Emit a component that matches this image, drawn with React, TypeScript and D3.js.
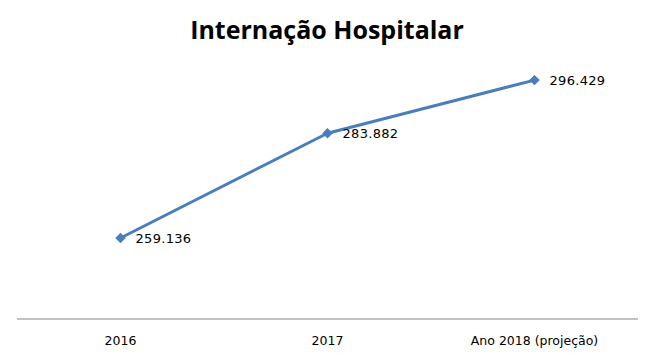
import React, { useEffect, useRef } from 'react';
import * as d3 from 'd3';

const categories = ['2016', '2017', 'Ano 2018 (projeção)'];
const values = [259136, 283882, 296429];
const valueLabels = ['259.136', '283.882', '296.429'];

export default function App() {
  const svgRef = useRef<SVGSVGElement>(null);

  useEffect(() => {
    if (!svgRef.current) return;
    const svg = d3.select(svgRef.current);
    svg.selectAll('*').remove();

    const width = 650;

    const x = d3.scaleBand<string>()
      .domain(categories)
      .range([17, 638]);

    const y = d3.scaleLinear()
      .domain([240000, 300000])
      .range([319, 65]);

    const cx = (c: string) => (x(c) ?? 0) + x.bandwidth() / 2;

    // title
    svg.append('text')
      .attr('x', width / 2 + 2)
      .attr('y', 39)
      .attr('text-anchor', 'middle')
      .style('font-family', '"Open Sans", sans-serif')
      .style('font-size', '25px')
      .style('font-weight', '700')
      .style('fill', '#000')
      .text('Internação Hospitalar');

    // baseline
    svg.append('line')
      .attr('x1', x.range()[0])
      .attr('x2', x.range()[1])
      .attr('y1', y(240000))
      .attr('y2', y(240000))
      .attr('stroke', '#868686')
      .attr('stroke-width', 1.2);

    // category labels
    svg.selectAll('text.cat')
      .data(categories)
      .enter()
      .append('text')
      .attr('class', 'cat')
      .attr('x', d => cx(d))
      .attr('y', 345)
      .attr('text-anchor', 'middle')
      .style('font-family', '"DejaVu Sans", sans-serif')
      .style('font-size', '12.5px')
      .style('fill', '#000')
      .text(d => d);

    const pts = categories.map((c, i) => ({ c, v: values[i], label: valueLabels[i] }));

    const line = d3.line<{ c: string; v: number }>()
      .x(d => cx(d.c))
      .y(d => y(d.v));

    svg.append('path')
      .datum(pts)
      .attr('d', line)
      .attr('fill', 'none')
      .attr('stroke', '#4a7ebb')
      .attr('stroke-width', 3)
      .attr('stroke-linejoin', 'round');

    const diamond = d3.symbol().type(d3.symbolDiamond2).size(70);

    svg.selectAll('path.marker')
      .data(pts)
      .enter()
      .append('path')
      .attr('class', 'marker')
      .attr('d', diamond)
      .attr('transform', d => `translate(${cx(d.c)},${y(d.v)})`)
      .attr('fill', '#4a7ebb');

    svg.selectAll('text.val')
      .data(pts)
      .enter()
      .append('text')
      .attr('class', 'val')
      .attr('x', d => cx(d.c) + 15)
      .attr('y', d => y(d.v) + 5)
      .style('font-family', '"DejaVu Sans", sans-serif')
      .style('font-size', '13px')
      .style('letter-spacing', '0.3px')
      .style('fill', '#000')
      .text(d => d.label);
  }, []);

  return (
    <div style={{ position: 'absolute', left: 0, top: 0, background: '#fff' }}>
      <svg ref={svgRef} width={650} height={360}></svg>
    </div>
  );
}
